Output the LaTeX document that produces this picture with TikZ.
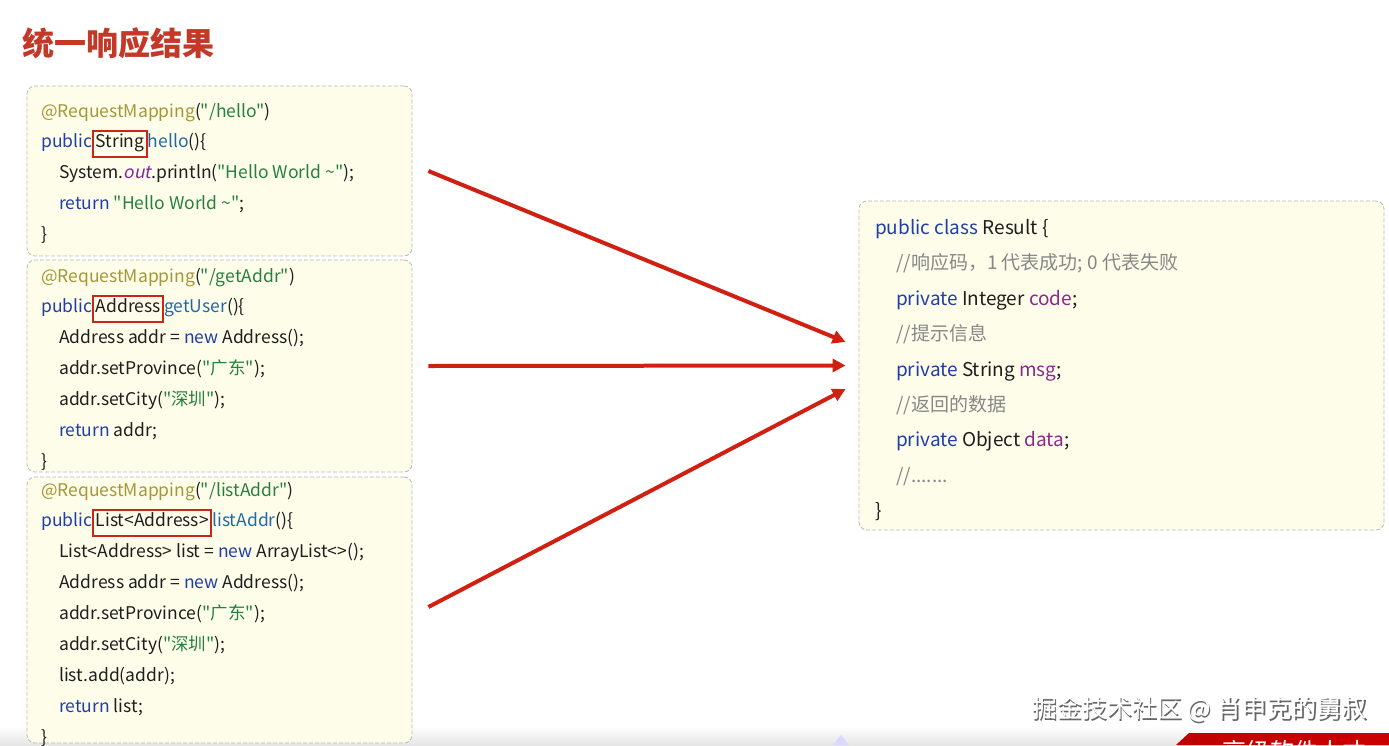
\documentclass[tikz,border=0pt]{standalone}
\usepackage{fontspec}
\setmainfont{Noto Sans CJK SC}[Ligatures=TeXOff]
\newfontfamily\slantfont{Noto Sans CJK SC}[FakeSlant=0.2, Ligatures=TeXOff]
\usepackage{tikz}
\usetikzlibrary{arrows.meta}
\usepackage{xcolor}

\definecolor{titlered}{RGB}{196,56,40}
\definecolor{codebg}{RGB}{253,253,234}
\definecolor{boxline}{RGB}{185,185,180}
\definecolor{arrowred}{RGB}{208,32,18}
\definecolor{hlred}{RGB}{200,40,28}
\definecolor{annolive}{RGB}{165,150,55}
\definecolor{strgreen}{RGB}{40,128,62}
\definecolor{kwblue}{RGB}{32,62,165}
\definecolor{mthblue}{RGB}{35,105,165}
\definecolor{fldpurple}{RGB}{140,40,140}
\definecolor{outpurple}{RGB}{130,40,160}
\definecolor{cmtgray}{RGB}{135,135,135}
\definecolor{codetext}{RGB}{30,30,30}

% colouring of the code
\newcommand\ann[1]{\textcolor{annolive}{#1}}
\newcommand\kw[1]{\textcolor{kwblue}{#1}}
\newcommand\strg[1]{\textcolor{strgreen}{#1}}
\newcommand\mth[1]{\textcolor{mthblue}{#1}}
\newcommand\fld[1]{\textcolor{fldpurple}{#1}}
\newcommand\cmt[1]{\textcolor{cmtgray}{#1}}
\newcommand\ind{\hspace*{18pt}}
\newcommand\rind{\hspace*{21pt}}
\newcommand\hlbox[1]{{\setlength\fboxsep{1.5pt}\setlength\fboxrule{2pt}%
  \fcolorbox{hlred}{codebg}{\rule[-7pt]{0pt}{21pt}#1}}}

\begin{document}
\begin{tikzpicture}[x=1pt, y=-1pt,
	codebox/.style={draw=boxline, dash pattern=on 4pt off 2pt, fill=codebg,
		rounded corners=8pt, line width=0.8pt, inner sep=0pt},
	codeline/.style={anchor=base west, inner sep=0pt, text=codetext,
		font=\fontsize{17.5}{20}\selectfont},
	resline/.style={codeline, font=\fontsize{19}{22}\selectfont},
	redarrow/.style={line width=4pt, color=arrowred, -{Triangle[length=13pt,width=13pt]}}]
	\useasboundingbox (0,0) rectangle (1389,745);

	% bottom of the slide
	\shade[top color=white, bottom color=black!10] (0,726) rectangle (1389,745);
	\fill[blue!15] (833,745) -- (841,735) -- (849,745) -- cycle;
	\shade[left color=red!75!black, right color=red!80!black] (1176,745) -- (1189,733) -- (1389,733) -- (1389,745) -- cycle;
	\begin{scope}
		\clip (1176,745) -- (1189,733) -- (1389,733) -- (1389,745) -- cycle;
		\node[anchor=base west, inner sep=0pt, text=white, font=\fontsize{24}{26}\selectfont] (banner) at (1222,760) {高级软件人才};
	\end{scope}

	\node[anchor=west, inner sep=0pt, text=titlered, font=\fontsize{32}{34}\selectfont\bfseries] (title) at (22,43) {统一响应结果};

	% the three methods
	\node[codebox, minimum width=385pt, minimum height=170pt] (box1) at (219.5,171) {};
	\node[codebox, minimum width=385pt, minimum height=212pt] (box2) at (219.5,366) {};
	\node[codebox, minimum width=385pt, minimum height=266pt] (box3) at (219.5,610) {};

	\foreach \txt [count=\i from 0] in {
		{\ann{@RequestMapping}(\strg{"/hello"})},
		{\kw{public}\hlbox{String}\mth{hello}()\{},
		{\ind System.\textcolor{outpurple}{\slantfont out}.println(\strg{"Hello World \textasciitilde"});},
		{\ind\kw{return} \strg{"Hello World \textasciitilde"};},
		{\}}}
		\node[codeline] (hello\i) at (41,{117+30.75*\i}) {\txt};

	\foreach \txt [count=\i from 0] in {
		{\ann{@RequestMapping}(\strg{"/getAddr"})},
		{\kw{public}\hlbox{Address}\mth{getUser}()\{},
		{\ind Address addr = \kw{new} Address();},
		{\ind addr.setProvince(\strg{"广东"});},
		{\ind addr.setCity(\strg{"深圳"});},
		{\ind\kw{return} addr;},
		{\}}}
		\node[codeline] (addr\i) at (41,{282+30.85*\i}) {\txt};

	\foreach \txt [count=\i from 0] in {
		{\ann{@RequestMapping}(\strg{"/listAddr"})},
		{\kw{public}\hlbox{List<Address>}\mth{listAddr}()\{},
		{\ind List<Address> list = \kw{new} ArrayList<>();},
		{\ind Address addr = \kw{new} Address();},
		{\ind addr.setProvince(\strg{"广东"});},
		{\ind addr.setCity(\strg{"深圳"});},
		{\ind list.add(addr);},
		{\ind\kw{return} list;},
		{\}}}
		\node[codeline] (list\i) at (41,{496+30.9*\i}) {\txt};

	% the result class
	\node[codebox, minimum width=525pt, minimum height=329pt] (res) at (1121.5,365.5) {};
	\foreach \txt [count=\i from 0] in {
		{\kw{public class} Result \{},
		{\rind\cmt{//响应码，1 代表成功; 0 代表失败}},
		{\rind\kw{private} Integer \fld{code};},
		{\rind\cmt{//提示信息}},
		{\rind\kw{private} String \fld{msg};},
		{\rind\cmt{//返回的数据}},
		{\rind\kw{private} Object \fld{data};},
		{\rind\cmt{//.......}},
		{\}}}
		\node[resline] (res\i) at (875,{234.5+35.4*\i}) {\txt};

	\draw[redarrow] ([xshift=16pt]box1.east) -- ([xshift=-13pt,yshift=23.5pt]res.west);
	\draw[redarrow] ([xshift=16pt]box2.east) -- ([xshift=-13pt]res.west);
	\draw[redarrow] ([xshift=16pt,yshift=3pt]box3.east) -- ([xshift=-13pt,yshift=-23.5pt]res.west);

	% watermark
	\node[text=black!60, font=\fontsize{25}{27}\selectfont] (markshadow) at (1200.8,710.8) {掘金技术社区 @ 肖申克的舅叔};
	\node[text=white, font=\fontsize{25}{27}\selectfont] (mark) at (1199.5,709.5) {掘金技术社区 @ 肖申克的舅叔};
\end{tikzpicture}
\end{document}
